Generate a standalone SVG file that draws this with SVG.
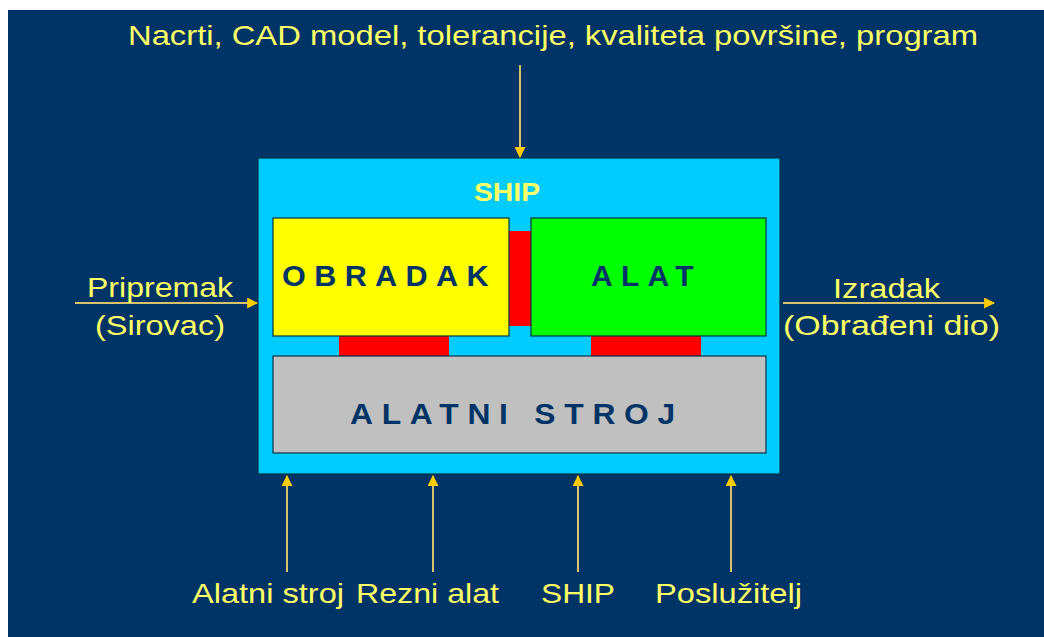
<svg xmlns="http://www.w3.org/2000/svg" width="1044" height="637" viewBox="0 0 1044 637">
<style>
.lbl{font-family:"Liberation Sans",Arial,sans-serif;font-size:28px;fill:#FFFF66}
.big{font-family:"Liberation Sans",Arial,sans-serif;font-size:29px;font-weight:bold;fill:#003366}
.box{stroke:#003344;stroke-width:1.2}
.wire{stroke:#D9C36A;stroke-width:2;fill:none;marker-end:url(#ah)}
</style>
<defs>
<marker id="ah" viewBox="0 0 10 10" refX="9" refY="5" markerWidth="5.5" markerHeight="5.5" orient="auto" markerUnits="strokeWidth">
<path d="M0,0 L10,5 L0,10 Z" fill="#FFCC00"/>
</marker>
</defs>
<rect x="0" y="0" width="1044" height="637" fill="#FFFFFF"/>
<rect x="8" y="10" width="1036" height="627" fill="#003366"/>

<g id="ship">
<rect x="258" y="158" width="522" height="316" fill="#00CCFF" class="box"/>
<text x="474" y="201" textLength="66" lengthAdjust="spacingAndGlyphs" style="font-family:'Liberation Sans',Arial,sans-serif;font-size:26px;font-weight:bold;fill:#FFFF66">SHIP</text>
</g>
<g id="contact-top">
<rect x="509" y="231" width="22" height="95" fill="#FF0000"/>
</g>
<g id="contact-left">
<rect x="339" y="336" width="110" height="20" fill="#FF0000"/>
</g>
<g id="contact-right">
<rect x="591" y="336" width="110" height="20" fill="#FF0000"/>
</g>
<g id="obradak">
<rect x="273" y="218" width="236" height="118" fill="#FFFF00" class="box"/>
<text x="282" y="286" class="big" letter-spacing="8" textLength="215" lengthAdjust="spacingAndGlyphs">OBRADAK</text>
</g>
<g id="alat">
<rect x="531" y="218" width="235" height="118" fill="#00FF00" class="box"/>
<text x="591" y="286" class="big" letter-spacing="8" textLength="111" lengthAdjust="spacingAndGlyphs">ALAT</text>
</g>
<g id="alatni-stroj">
<rect x="273" y="356" width="493" height="97" fill="#C0C0C0" class="box"/>
<text x="350" y="424" class="big" letter-spacing="8" textLength="334" lengthAdjust="spacingAndGlyphs">ALATNI STROJ</text>
</g>

<g id="connectors">
<line x1="520" y1="65" x2="520" y2="157" class="wire"/>
<line x1="75" y1="303" x2="257" y2="303" class="wire"/>
<line x1="783" y1="303" x2="994" y2="303" class="wire"/>
<line x1="287" y1="572" x2="287" y2="476" class="wire"/>
<line x1="433" y1="572" x2="433" y2="476" class="wire"/>
<line x1="578" y1="572" x2="578" y2="476" class="wire"/>
<line x1="731" y1="572" x2="731" y2="476" class="wire"/>
</g>

<g id="labels">
<text x="128" y="45" class="lbl" textLength="850" lengthAdjust="spacingAndGlyphs">Nacrti, CAD model, tolerancije, kvaliteta površine, program</text>
<text x="87" y="297" class="lbl" textLength="146" lengthAdjust="spacingAndGlyphs">Pripremak</text>
<text x="95" y="335" class="lbl" textLength="130" lengthAdjust="spacingAndGlyphs">(Sirovac)</text>
<text x="833" y="298" class="lbl" textLength="107" lengthAdjust="spacingAndGlyphs">Izradak</text>
<text x="783" y="335" class="lbl" textLength="217" lengthAdjust="spacingAndGlyphs">(Obrađeni dio)</text>
<text x="192" y="603" class="lbl" textLength="152" lengthAdjust="spacingAndGlyphs">Alatni stroj</text>
<text x="356" y="603" class="lbl" textLength="143" lengthAdjust="spacingAndGlyphs">Rezni alat</text>
<text x="541" y="603" class="lbl" textLength="74" lengthAdjust="spacingAndGlyphs">SHIP</text>
<text x="655" y="603" class="lbl" textLength="147" lengthAdjust="spacingAndGlyphs">Poslužitelj</text>
</g>
</svg>
